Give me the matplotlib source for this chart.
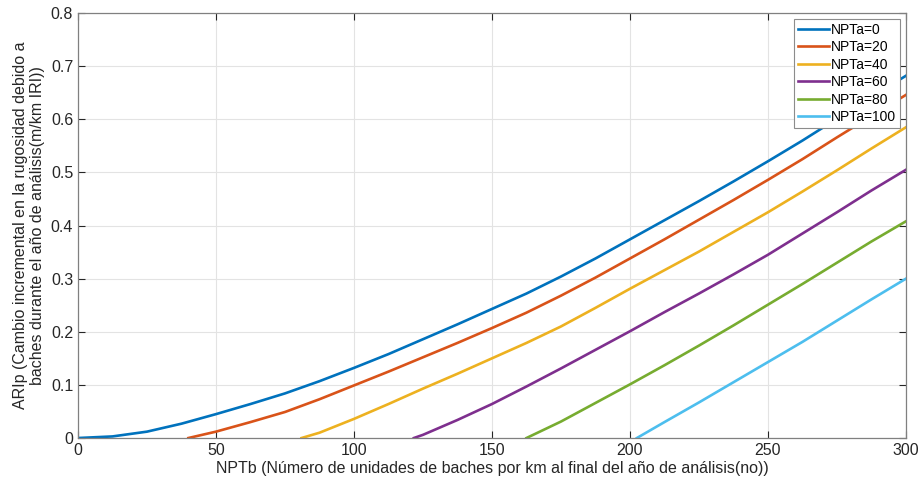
import matplotlib.pyplot as plt

plt.rcParams['font.family'] = ['Liberation Sans', 'DejaVu Sans']

# valores (NPTb, ARIp) para cada NPTa
x_0 = [0, 12.5, 25, 37.5, 50, 62.5, 75, 87.5, 100, 112.5, 125, 137.5, 150, 162.5, 175,
       187.5, 200, 212.5, 225, 237.5, 250, 262.5, 275, 287.5, 300]
y_0 = [0, 0.003, 0.012, 0.027, 0.045, 0.064, 0.084, 0.107, 0.132, 0.158, 0.186, 0.214,
       0.243, 0.272, 0.304, 0.338, 0.374, 0.410, 0.446, 0.483, 0.521, 0.560, 0.601,
       0.642, 0.682]

x_20 = [40, 50, 62.5, 75, 87.5, 100, 112.5, 125, 137.5, 150, 162.5, 175, 187.5, 200,
        212.5, 225, 237.5, 250, 262.5, 275, 287.5, 300]
y_20 = [0, 0.012, 0.030, 0.049, 0.073, 0.099, 0.125, 0.152, 0.179, 0.207, 0.236, 0.268,
        0.302, 0.338, 0.374, 0.411, 0.448, 0.486, 0.525, 0.566, 0.606, 0.646]

x_40 = [81, 87.5, 100, 112.5, 125, 137.5, 150, 162.5, 175, 187.5, 200, 212.5, 225,
        237.5, 250, 262.5, 275, 287.5, 300]
y_40 = [0, 0.010, 0.036, 0.064, 0.093, 0.121, 0.150, 0.179, 0.210, 0.245, 0.281, 0.316,
        0.351, 0.388, 0.425, 0.464, 0.504, 0.545, 0.585]

x_60 = [121.7, 125, 137.5, 150, 162.5, 175, 187.5, 200, 212.5, 225, 237.5, 250, 262.5,
        275, 287.5, 300]
y_60 = [0, 0.006, 0.034, 0.064, 0.097, 0.131, 0.166, 0.201, 0.237, 0.272, 0.308, 0.345,
        0.385, 0.425, 0.466, 0.505]

x_80 = [162.5, 175, 187.5, 200, 212.5, 225, 237.5, 250, 262.5, 275, 287.5, 300]
y_80 = [0, 0.031, 0.066, 0.101, 0.137, 0.174, 0.212, 0.251, 0.290, 0.330, 0.370, 0.408]

x_100 = [202.5, 212.5, 225, 237.5, 250, 262.5, 275, 287.5, 300]
y_100 = [0, 0.030, 0.067, 0.105, 0.143, 0.181, 0.221, 0.261, 0.300]

labels = ['NPTa=0', 'NPTa=20', 'NPTa=40', 'NPTa=60', 'NPTa=80', 'NPTa=100']
colors = ['#0072BD', '#D95319', '#EDB120', '#7E2F8E', '#77AC30', '#4DBEEE']
series = [(x_0, y_0), (x_20, y_20), (x_40, y_40), (x_60, y_60), (x_80, y_80), (x_100, y_100)]

fig = plt.figure(figsize=(9.22, 4.84), dpi=100)
ax = fig.add_axes([0.0846, 0.095, 0.898, 0.878])

for (xs, ys), lab, c in zip(series, labels, colors):
    ax.plot(xs, ys, color=c, lw=1.9, label=lab, solid_joinstyle='round')

ax.set_xlim(0, 300)
ax.set_ylim(0, 0.8)
ax.set_xticks([0, 50, 100, 150, 200, 250, 300])
ax.set_yticks([0, 0.1, 0.2, 0.3, 0.4, 0.5, 0.6, 0.7, 0.8])
ax.set_yticklabels(['0', '0.1', '0.2', '0.3', '0.4', '0.5', '0.6', '0.7', '0.8'])
ax.grid(True, color='#e3e3e3', lw=0.8)
ax.tick_params(direction='in', top=True, right=True, labelsize=11.5,
               colors='#262626', length=5, width=0.8)
for sp in ax.spines.values():
    sp.set_color('#808080')
    sp.set_linewidth(0.9)

ax.set_xlabel('NPTb (Número de unidades de baches por km al final del año de análisis(no))',
              fontsize=11.5, color='#262626', labelpad=2)
ax.set_ylabel('ARIp (Cambio incremental en la rugosidad debido a\n'
              'baches durante el año de análisis(m/km IRI))',
              fontsize=11.5, color='#262626', labelpad=4)

leg = ax.legend(loc='upper right', fontsize=10, handlelength=2.2, handletextpad=0.15,
                borderpad=0.3, labelspacing=0.25, fancybox=False, framealpha=1,
                borderaxespad=0.4)
leg.get_frame().set_edgecolor('#8c8c8c')
leg.get_frame().set_linewidth(0.8)

fig.savefig('out.png', dpi=100)
